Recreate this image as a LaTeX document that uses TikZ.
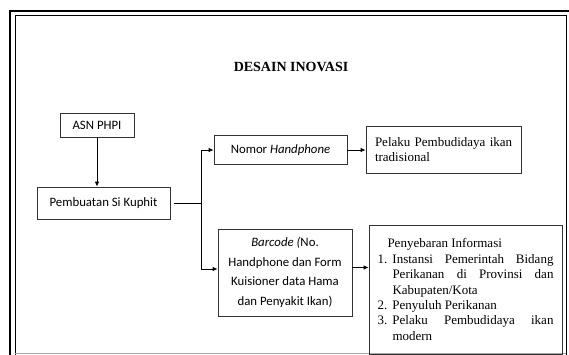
\documentclass[tikz,border=0pt]{standalone}
\usepackage{fontspec}
\setmainfont{Liberation Serif}
\newfontfamily\calibri{Carlito}
\usetikzlibrary{arrows.meta}

% one justified line of the numbered list
\newcommand{\numline}[2]{\makebox[15pt][l]{#1}\makebox[161pt][s]{#2}}
\newcommand{\numlast}[2]{\makebox[15pt][l]{#1}#2}

\begin{document}
\begin{tikzpicture}[x=1pt, y=-1pt,
  box/.style={draw=black!80, line width=0.8pt, inner sep=0pt},
  sansbox/.style={box, font=\calibri\fontsize{12.8}{19.5}\selectfont, align=center},
  serifbox/.style={box, font=\fontsize{13}{15.4}\selectfont, align=left},
  link/.style={line width=0.8pt, -{Latex[length=5pt, width=4.5pt]}}
]
\useasboundingbox (0,0) rectangle (569,355);

% Frame
\draw[line width=2.5pt] (10,356) -- (10,11) -- (570,11);
\draw[line width=0.9pt] (15,356) -- (15,15.5) -- (566,15.5) -- (566,356);
\draw[black!35, line width=1pt] (15,353.5) -- (566,353.5);

% Title
\node[font=\bfseries\fontsize{14}{16}\selectfont] (title) at (291,67) {DESAIN INOVASI};

% Boxes
\node[sansbox, minimum width=74pt, minimum height=24pt] (asn) at (97,125) {ASN PHPI};
\node[sansbox, minimum width=133pt, minimum height=32pt] (buat) at (103.5,203) {Pembuatan Si Kuphit};
\node[sansbox, minimum width=133pt, minimum height=29pt] (nomor) at (280.5,150) {Nomor \textit{Handphone}};
\node[serifbox, text width=147pt, inner xsep=4pt, minimum height=47pt] (pelaku) at (443.5,149.5)
  {\hspace*{5pt}Pelaku Pembudidaya ikan\\\hspace*{5pt}tradisional};
\node[sansbox, minimum width=134pt, minimum height=87pt] (barcode) at (285,272.5)
  {\textit{Barcode (}No.\\Handphone dan Form\\Kuisioner data Hama\\dan Penyakit Ikan)};
\node[serifbox, minimum width=193pt, minimum height=129pt] (info) at (465.5,289.5)
  {\hspace*{10pt}Penyebaran Informasi\\
   \numline{1.}{Instansi Pemerintah Bidang}\\
   \numline{}{Perikanan di Provinsi dan}\\
   \numlast{}{Kabupaten/Kota}\\
   \numlast{2.}{Penyuluh Perikanan}\\
   \numline{3.}{Pelaku Pembudidaya ikan}\\
   \numlast{}{modern}};

% Connectors
\coordinate (split) at (201,203);
\draw[link] (asn.south) -- (asn.south |- buat.north);
\draw[line width=0.8pt, shorten <=4pt] (buat.east) -- (split);
\draw[link] (split) |- (nomor.west);
\draw[link] (split) |- ([yshift=3.5pt]barcode.west);
\draw[link] (nomor.east) -- (nomor.east -| pelaku.west);
\draw[link] ([yshift=5pt]barcode.east) -- ([yshift=5pt]barcode.east -| info.west);

\end{tikzpicture}
\end{document}
